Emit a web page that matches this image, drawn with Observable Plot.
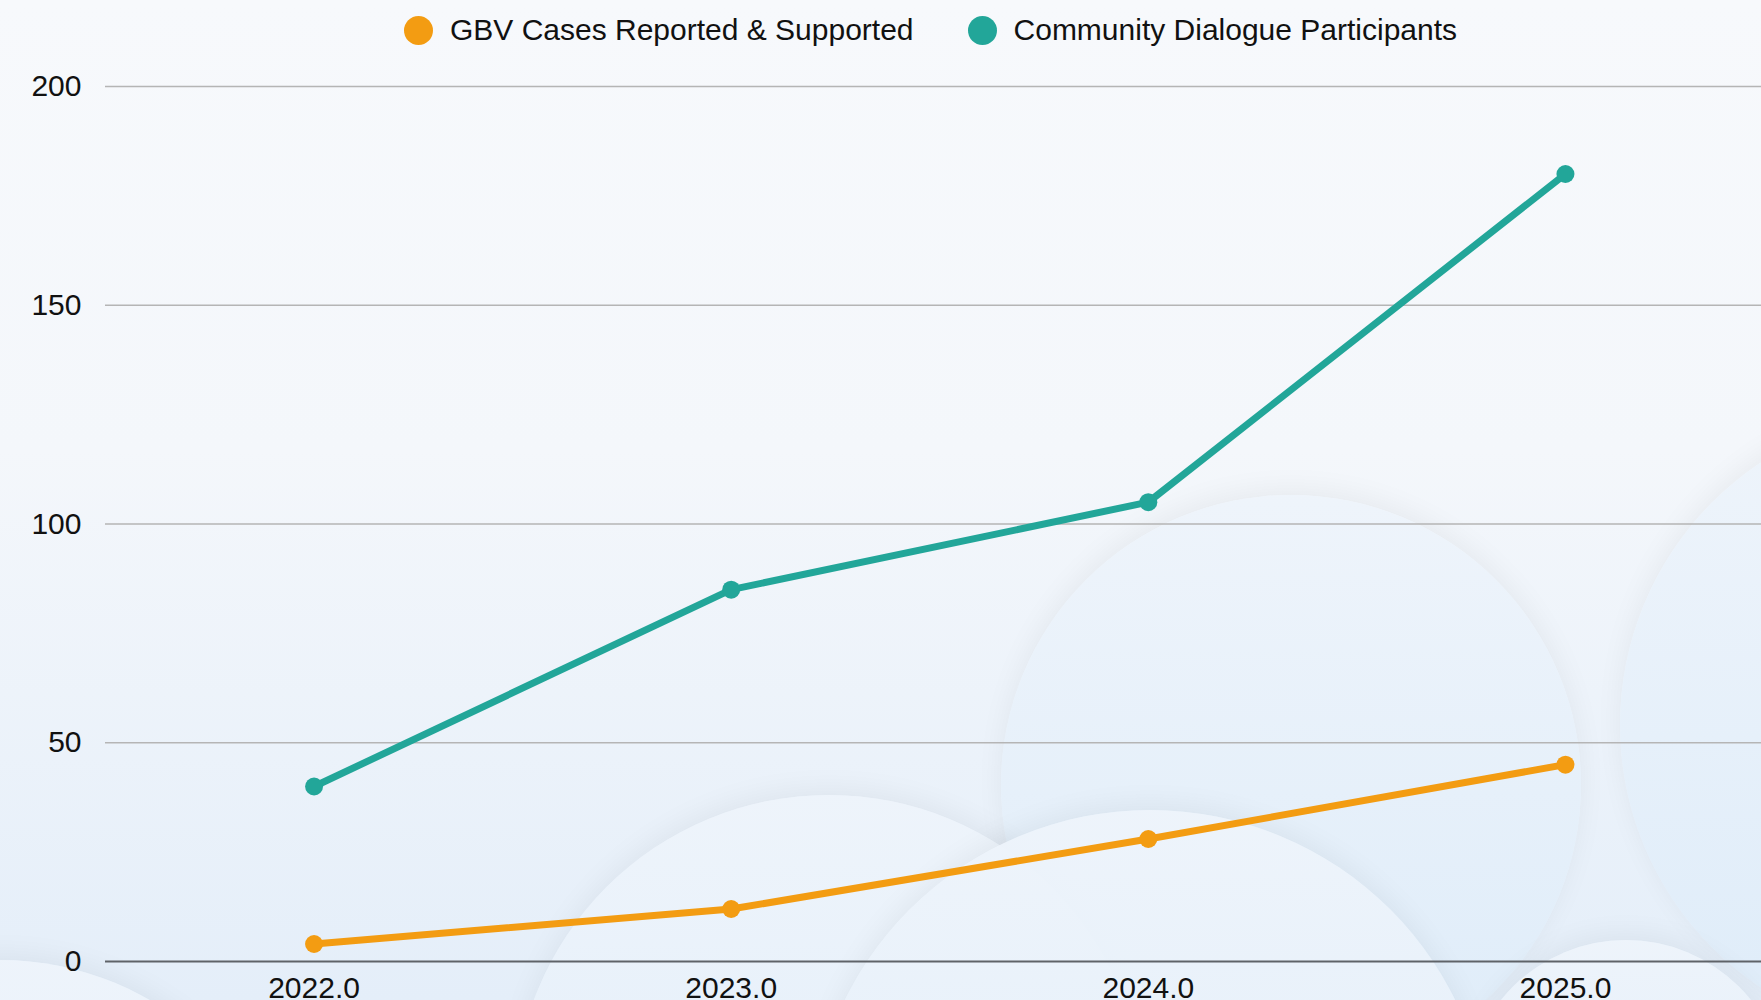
<!DOCTYPE html>
<html>
<head>
<meta charset="utf-8">
<script src="https://cdn.jsdelivr.net/npm/d3@7"></script>
<script src="https://cdn.jsdelivr.net/npm/@observablehq/plot@0.6"></script>
<style>
  html, body { margin: 0; padding: 0; width: 1761px; height: 1000px; overflow: hidden; }
  body {
    position: relative;
    background: linear-gradient(180deg, #f7f9fc 0%, #f4f7fb 45%, #e4eef9 100%);
    font-family: "Liberation Sans", Arial, sans-serif;
  }
  .cloud {
    position: absolute; border-radius: 50%;
    background: linear-gradient(180deg, rgba(238,244,251,0.95), rgba(222,236,249,0.95));
    box-shadow: 0 -6px 28px rgba(0,0,0,0.05);
    z-index: 0;
  }
  #legend {
    position: relative; z-index: 2;
    height: 60px; display: flex; justify-content: center; align-items: center;
    font-size: 30px; color: #111;
    padding-left: 100px;
  }
  .item { display: flex; align-items: center; margin: 0 27px; }
  .sw { width: 29px; height: 29px; border-radius: 50%; margin-right: 17px; }
  #chart { position: relative; z-index: 1; }
</style>
</head>
<body>
<div class="cloud" style="left:1001px; top:495px; width:580px; height:580px;"></div>
<div class="cloud" style="left:1620px; top:410px; width:630px; height:630px;"></div>
<div class="cloud" style="left:514px; top:795px; width:630px; height:630px;"></div>
<div class="cloud" style="left:810px; top:810px; width:680px; height:680px;"></div>
<div class="cloud" style="left:1466px; top:940px; width:320px; height:320px;"></div>
<div class="cloud" style="left:-300px; top:960px; width:600px; height:600px;"></div>
<div id="legend"></div>
<div id="chart"></div>
<script>
const years = [2022, 2023, 2024, 2025];
const gbvCases = [4, 12, 28, 45];
const dialogueParticipants = [40, 85, 105, 180];
const seriesNames = ["GBV Cases Reported & Supported", "Community Dialogue Participants"];
const seriesColors = ["#f39c12", "#22a699"];
const yTicks = [0, 50, 100, 150, 200];

const legend = document.getElementById("legend");
seriesNames.forEach((n, i) => {
  const it = document.createElement("div");
  it.className = "item";
  it.innerHTML = `<span class="sw" style="background:${seriesColors[i]}"></span><span>${n}</span>`;
  legend.appendChild(it);
});

const data = [];
years.forEach((y, i) => {
  data.push({year: y, value: gbvCases[i], series: seriesNames[0]});
  data.push({year: y, value: dialogueParticipants[i], series: seriesNames[1]});
});

const chart = Plot.plot({
  width: 1761,
  height: 951,
  marginTop: 26,
  marginLeft: 105,
  marginRight: 0,
  marginBottom: 50,
  style: {fontSize: "30px", fontFamily: "Liberation Sans, Arial, sans-serif", background: "transparent", color: "#111", overflow: "visible"},
  x: {domain: [2021.5, 2025.47], ticks: years, tickFormat: d => d.toFixed(1), tickSize: 0, tickPadding: 15, label: null},
  y: {domain: [0, 200], ticks: yTicks, tickSize: 0, tickPadding: 24, label: null},
  color: {domain: seriesNames, range: seriesColors},
  marks: [
    Plot.ruleY(yTicks.filter(d => d > 0), {stroke: "#b5b5b5", strokeWidth: 1.5}),
    Plot.ruleY([0], {stroke: "#5f6368", strokeWidth: 2}),
    Plot.axisX({ticks: years, tickFormat: d => d.toFixed(1), tickSize: 0, tickPadding: 15, fontSize: 30, fill: "#111"}),
    Plot.axisY({ticks: yTicks, tickSize: 0, tickPadding: 24, fontSize: 30, fill: "#111"}),
    Plot.line(data, {x: "year", y: "value", stroke: "series", z: "series", strokeWidth: 7}),
    Plot.dot(data, {x: "year", y: "value", fill: "series", r: 9})
  ]
});
document.getElementById("chart").appendChild(chart);
</script>
</body>
</html>
